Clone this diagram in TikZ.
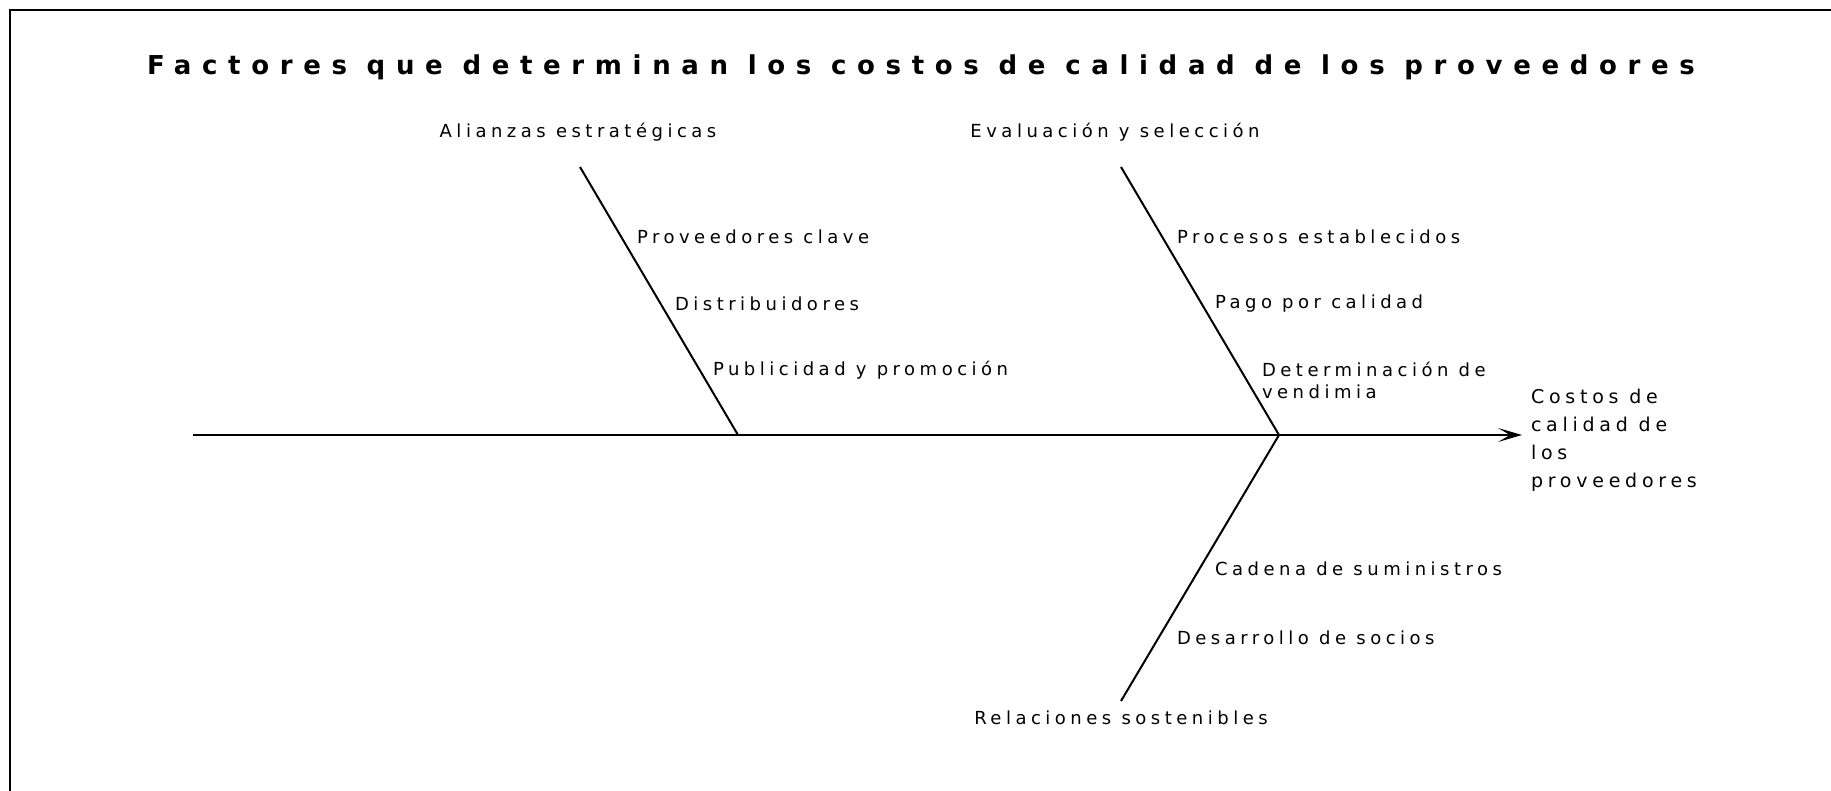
\documentclass[tikz,border=0pt]{standalone}
\usepackage{fontspec}
\usetikzlibrary{positioning, arrows.meta}
\newfontfamily\titlefont[LetterSpace=41]{DejaVu Sans}
\newfontfamily\causefont[LetterSpace=25]{DejaVu Sans}

\begin{document}
\begin{tikzpicture}[x=1pt, y=-1pt, line width=2pt,
    title/.style={inner sep=0pt, anchor=base west, font=\titlefont\bfseries\fontsize{26}{30}\selectfont},
    group/.style={inner sep=0pt, font=\causefont\fontsize{18}{22}\selectfont},
    cause/.style={group, anchor=west, align=left},
    effect/.style={inner sep=0pt, anchor=west, align=left, font=\causefont\fontsize{19}{28}\selectfont}]
      \useasboundingbox (0,0) rectangle (1831,791);
      % frame
      \coordinate (f1) at (10,791);
      \coordinate (f2) at (10,10);
      \coordinate (f3) at (1831,10);
      \draw (f1) -- (f2) -- (f3);

      \node[title] (title) at (146,75) {Factores que determinan los costos de calidad de los proveedores};

      % spine and bones
      \coordinate (tail) at (193,435);
      \coordinate (tip) at (1522,435);
      \coordinate (j1) at (738,435);
      \coordinate (j2) at (1279,435);
      \coordinate (b1) at (580,167);
      \coordinate (b2) at (1121,167);
      \coordinate (b3) at (1121,701);

      \node[group] (alianzas) at (578,132) {Alianzas estratégicas};
      \node[group] (evaluacion) at (1115,132) {Evaluación y selección};
      \node[group] (relaciones) at (1121,718) {Relaciones sostenibles};

      \node[cause] (clave) at (636,237) {Proveedores clave};
      \node[cause] (distrib) at (674,304) {Distribuidores};
      \node[cause] (promo) at (712,370) {Publicidad y promoción};
      \node[cause] (procesos) at (1176,237) {Procesos establecidos};
      \node[cause] (pago) at (1214,304) {Pago por calidad};
      \node[cause] (vendimia) at (1261,380) {Determinación de\\vendimia};
      \node[cause] (cadena) at (1214,569) {Cadena de suministros};
      \node[cause] (socios) at (1176,638) {Desarrollo de socios};

      \node[effect] (costos) at (1530,440) {Costos de\\calidad de\\los\\proveedores};

      \draw[-{Stealth[length=24pt, width=14pt, inset=12pt]}] (tail) -- (tip);
      \draw (b1) -- (j1);
      \draw (b2) -- (j2);
      \draw (b3) -- (j2);
    \end{tikzpicture}
\end{document}
